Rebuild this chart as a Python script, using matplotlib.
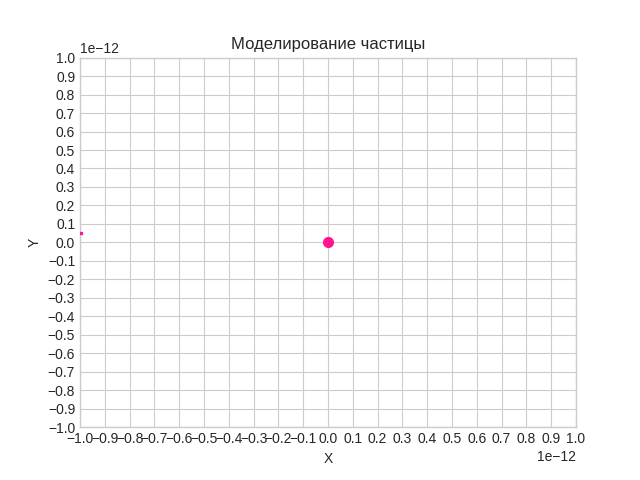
import numpy as np
import matplotlib
matplotlib.use("Agg")
import matplotlib.pyplot as plt

plt.style.use("seaborn-v0_8-whitegrid")
plt.rcParams["font.family"] = ["Liberation Sans", "DejaVu Sans"]

# particle position (current) and a faint trace point at the left edge
particle_x = [0.0]
particle_y = [0.0]
trace_x = [-0.994e-12]
trace_y = [0.049e-12]

lim = 1e-12
ticks = np.round(np.arange(-10, 11) * 0.1, 1) * 1e-12

fig, ax = plt.subplots(figsize=(6.4, 4.8), dpi=100)
ax.plot(particle_x, particle_y, "o", color="deeppink", markersize=7)
ax.plot(trace_x, trace_y, "s", color="deeppink", markersize=1.5, zorder=5)

ax.set_xlim(-lim, lim)
ax.set_ylim(-lim, lim)
ax.set_xticks(ticks)
ax.set_yticks(ticks)
ax.set_xlabel("X")
ax.set_ylabel("Y")
ax.set_title("Моделирование частицы")

fig.savefig("out.png")
